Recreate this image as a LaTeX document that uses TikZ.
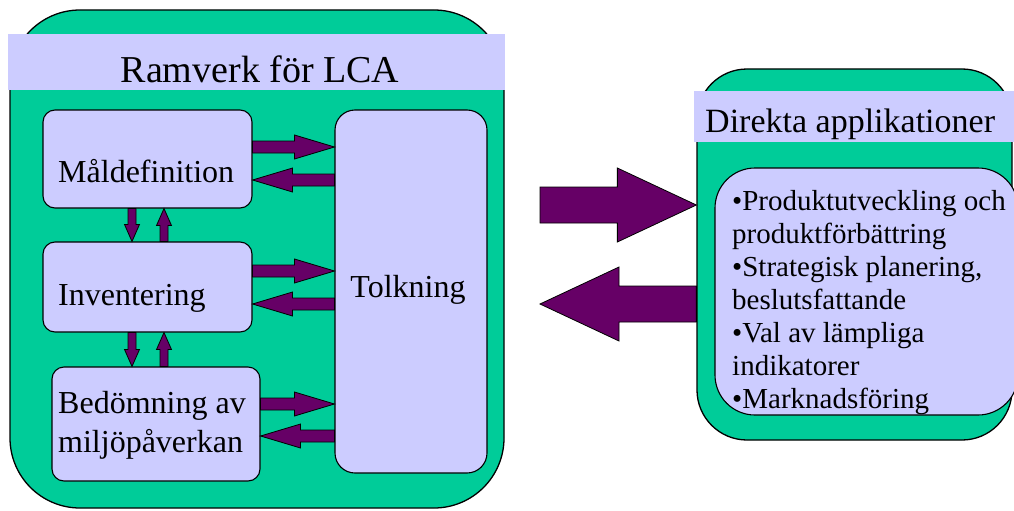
\documentclass[tikz,border=0pt]{standalone}
\usepackage{fontspec}
\setmainfont{Liberation Serif}
\usetikzlibrary{calc}
\definecolor{lcagreen}{RGB}{0,204,153}
\definecolor{lcalilac}{RGB}{204,204,255}
\definecolor{lcapurple}{RGB}{102,0,102}
% block arrow: start, tip, half shaft, half head, head length
\newcommand{\flowarrow}[5]{%
  \coordinate (hb) at ($(#2)!#5!(#1)$);
  \filldraw[flow] ($(#1)!#3!90:(#2)$) -- ($(hb)!#3!-90:(#1)$) -- ($(hb)!#4!-90:(#1)$) -- (#2)
    -- ($(hb)!#4!90:(#1)$) -- ($(hb)!#3!90:(#1)$) -- ($(#1)!#3!-90:(#2)$) -- cycle;
}
\begin{document}
\begin{tikzpicture}[x=1pt,y=-1pt,
  greenframe/.style={draw=black,line width=1.3pt,fill=lcagreen,inner sep=0pt},
  lilacbox/.style={draw=black,line width=1.1pt,fill=lcalilac,inner sep=0pt},
  band/.style={fill=lcalilac,inner sep=0pt},
  flow/.style={draw=black,line width=0.8pt,fill=lcapurple},
  titlefont/.style={font=\fontsize{38}{44}\selectfont,inner sep=0pt},
  headfont/.style={font=\fontsize{34}{40}\selectfont,inner sep=0pt},
  boxfont/.style={font=\fontsize{32}{39}\selectfont,inner sep=0pt},
  listfont/.style={font=\fontsize{29}{33}\selectfont,inner sep=0pt}]
   \clip (0,0) rectangle (1014,511);
   % framework
   \node[greenframe,rounded corners=70pt,minimum width=494pt,minimum height=498pt] (ram) at (257,259) {};
   \node[band,minimum width=497pt,minimum height=56pt] (ramband) at (256.5,62) {};
   \node[titlefont,anchor=base] (ramtitle) at (260,82) {Ramverk för LCA};
   \node[lilacbox,rounded corners=12pt,minimum width=209pt,minimum height=98pt] (mal) at (147.5,159) {};
   \node[lilacbox,rounded corners=12pt,minimum width=209pt,minimum height=90pt] (inv) at (147.5,287) {};
   \node[lilacbox,rounded corners=12pt,minimum width=208pt,minimum height=114pt] (bed) at (156,424) {};
   \node[lilacbox,rounded corners=20pt,minimum width=152pt,minimum height=363pt] (tolk) at (411,291.5) {};
   \node[boxfont,anchor=base west] (maltext) at (58,182) {Måldefinition};
   \node[boxfont,anchor=base west] (invtext) at (58,305) {Inventering};
   \node[boxfont,anchor=base west,align=left] (bedtext) at (58,452) {Bedömning av\\miljöpåverkan};
   \node[boxfont,anchor=base] (tolktext) at (408,297) {Tolkning};
   % applications
   \node[greenframe,rounded corners=50pt,minimum width=315pt,minimum height=371pt] (dir) at (854.5,254.5) {};
   \node[band,minimum width=322pt,minimum height=51pt] (dirband) at (855,116.5) {};
   \node[headfont,anchor=base west] (dirtitle) at (705,132) {Direkta applikationer};
   \node[lilacbox,rounded corners=40pt,minimum width=303pt,minimum height=247pt] (app) at (866.5,291.5) {};
   \node[listfont,anchor=base west,align=left] (apptext) at (732,408)
     {•Produktutveckling och\\produktförbättring\\•Strategisk planering,\\beslutsfattande\\•Val av lämpliga\\indikatorer\\•Marknadsföring};
   % arrows to and from Tolkning
   \foreach \b/\yr/\yl in {mal/147/180,inv/271/304,bed/404/436}{
     \coordinate (r1) at (\b.east |- 0,\yr);
     \coordinate (r2) at (tolk.west |- 0,\yr);
     \flowarrow{r1}{r2}{6pt}{12pt}{40pt}
     \coordinate (l1) at (tolk.west |- 0,\yl);
     \coordinate (l2) at (\b.east |- 0,\yl);
     \flowarrow{l1}{l2}{6pt}{12pt}{40pt}
   }
   % arrows between the steps
   \foreach \u/\d in {mal/inv,inv/bed}{
     \coordinate (d1) at (\u.south -| 132,0);
     \coordinate (d2) at (\d.north -| 132,0);
     \flowarrow{d1}{d2}{4pt}{7.5pt}{17pt}
     \coordinate (u1) at (\d.north -| 164,0);
     \coordinate (u2) at (\u.south -| 164,0);
     \flowarrow{u1}{u2}{4pt}{7.5pt}{17pt}
   }
   % big arrows
   \coordinate (o1) at (540,205);
   \coordinate (o2) at (dir.west |- o1);
   \flowarrow{o1}{o2}{18pt}{37pt}{79pt}
   \coordinate (i1) at (dir.west |- 0,304);
   \coordinate (i2) at (540,304);
   \flowarrow{i1}{i2}{18pt}{37pt}{79pt}
\end{tikzpicture}
\end{document}
